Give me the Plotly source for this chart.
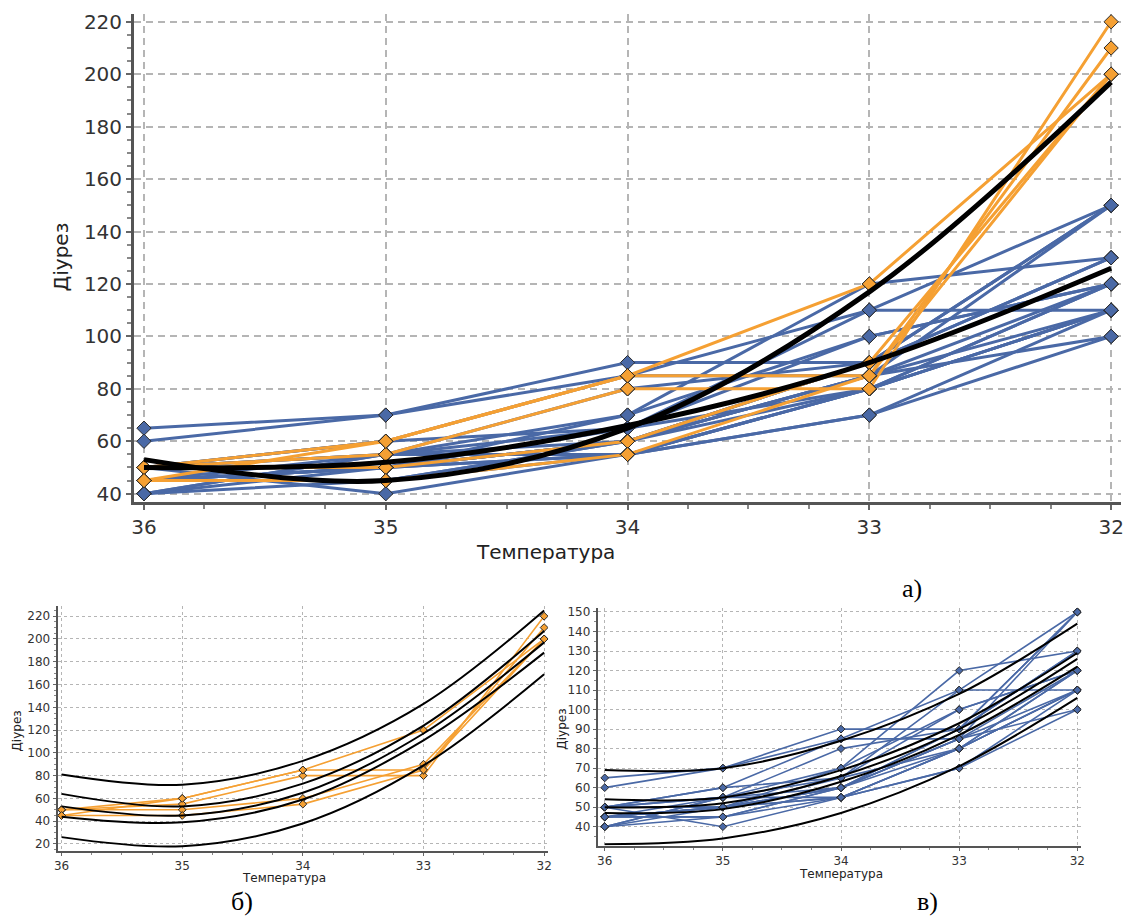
import plotly.graph_objects as go

# Temperature points (x axis runs from 36 down to 32)
temps = [36, 35, 34, 33, 32]

# Group 1 (orange) individual records: diuresis at each temperature
o1 = [45, 60, 85, 120, 200]
o2 = [50, 55, 80, 80, 220]
o3 = [50, 60, 85, 85, 210]
o4 = [50, 50, 60, 90, 200]
o5 = [45, 45, 55, 85, 200]

# Group 2 (blue) individual records
b1 = [65, 70, 90, 90, 130]
b2 = [60, 70, 85, 110, 110]
b3 = [50, 60, 85, 85, 120]
b4 = [45, 55, 80, 90, 150]
b5 = [40, 50, 70, 120, 130]
b6 = [50, 55, 70, 100, 120]
b7 = [45, 45, 55, 70, 100]
b8 = [50, 40, 55, 80, 110]
b9 = [40, 45, 60, 85, 150]
b10 = [45, 50, 55, 80, 110]
b11 = [50, 60, 65, 110, 150]
b12 = [45, 50, 60, 80, 120]
b13 = [50, 50, 60, 85, 100]
b14 = [40, 55, 55, 80, 120]
b15 = [45, 50, 60, 90, 130]
b16 = [50, 55, 65, 80, 110]
b17 = [45, 45, 60, 85, 110]
b18 = [50, 50, 55, 70, 110]
b19 = [40, 55, 60, 90, 150]
b20 = [45, 50, 65, 100, 120]

# Quadratic trend for group 1 with confidence and prediction bands
fit_orange = [53, 45, 65, 117, 197]
ci_orange_hi = [64, 53, 73, 124, 207]
ci_orange_lo = [44, 39, 59, 111, 188]
pi_orange_hi = [81, 72, 93, 143, 225]
pi_orange_lo = [26, 18, 38, 89, 169]

# Quadratic trend for group 2 with confidence and prediction bands
fit_blue = [50, 52, 66, 90, 126]
ci_blue_hi = [54, 55, 69, 93, 129]
ci_blue_lo = [47, 49, 63, 87, 122]
pi_blue_hi = [69, 70, 84, 108, 144]
pi_blue_lo = [31, 34, 47, 71, 106]

orange_rows = [o1, o2, o3, o4, o5]
blue_rows = [b1, b2, b3, b4, b5, b6, b7, b8, b9, b10,
             b11, b12, b13, b14, b15, b16, b17, b18, b19, b20]

BLUE = "#4a69a6"
ORANGE = "#f5a033"
EDGE = "#2a2a2a"
W, H = 1131, 920
FONT = "DejaVu Sans"

fig = go.Figure()


def add_group(rows, color, xa, ya, lw):
    for r in rows:
        fig.add_trace(go.Scatter(x=temps, y=r, mode="lines", xaxis=xa, yaxis=ya,
                                 line=dict(color=color, width=lw), hoverinfo="skip"))


def add_markers(rows, color, xa, ya, msize):
    xs, ys = [], []
    for r in rows:
        xs += temps
        ys += r
    fig.add_trace(go.Scatter(x=xs, y=ys, mode="markers", xaxis=xa, yaxis=ya,
                             marker=dict(symbol="diamond", size=msize, color=color,
                                         line=dict(color=EDGE, width=1))))


def add_curves(curves, xa, ya, lw):
    for c in curves:
        fig.add_trace(go.Scatter(x=temps, y=c, mode="lines", xaxis=xa, yaxis=ya,
                                 line=dict(color="black", width=lw, shape="spline"),
                                 hoverinfo="skip"))


# Panel a: both groups with their trends
add_group(blue_rows, BLUE, "x", "y", 3)
add_group(orange_rows, ORANGE, "x", "y", 3)
add_markers(blue_rows, BLUE, "x", "y", 11)
add_markers(orange_rows, ORANGE, "x", "y", 11)
add_curves([fit_orange, fit_blue], "x", "y", 5)

# Panel b: group 1 with bands
add_group(orange_rows, ORANGE, "x2", "y2", 1.6)
add_markers(orange_rows, ORANGE, "x2", "y2", 6)
add_curves([pi_orange_hi, ci_orange_hi, fit_orange, ci_orange_lo, pi_orange_lo], "x2", "y2", 2)

# Panel c: group 2 with bands
add_group(blue_rows, BLUE, "x3", "y3", 1.6)
add_markers(blue_rows, BLUE, "x3", "y3", 6)
add_curves([pi_blue_hi, ci_blue_hi, fit_blue, ci_blue_lo, pi_blue_lo], "x3", "y3", 2)


def px_x(v):
    return v / W


def px_y(v):
    return 1 - v / H


def axis(domain, rng, dtick, minor, fs, big, anchor):
    return dict(
        domain=domain, range=rng, anchor=anchor, dtick=dtick, tick0=0,
        showline=True, linecolor="#555555", linewidth=3 if big else 2,
        showgrid=True, gridcolor="#b5b5b5", gridwidth=1.5 if big else 1,
        griddash="7px,5px" if big else "3px,3px",
        ticks="outside", ticklen=5 if big else 3, tickwidth=1.5 if big else 1,
        tickcolor="#666666",
        minor=dict(dtick=minor, ticks="outside", ticklen=4 if big else 2,
                   tickcolor="#888888", showgrid=False),
        tickfont=dict(family=FONT, size=fs, color="#333333"),
        zeroline=False, mirror=False, fixedrange=True,
    )


layout_axes = dict(
    xaxis=axis([px_x(131), px_x(1125)], [36.041, 31.959], 1, 0.25, 20, True, "y"),
    yaxis=axis([px_y(502), px_y(10)], [36.98, 223.0], 20, 5, 20, True, "x"),
    xaxis2=axis([px_x(54), px_x(548)], [36.033, 31.967], 1, 0.25, 12, False, "y2"),
    yaxis2=axis([px_y(854), px_y(607)], [14.2, 229.2], 20, 5, 12, False, "x2"),
    xaxis3=axis([px_x(598), px_x(1085)], [36.059, 31.966], 1, 0.25, 12, False, "y3"),
    yaxis3=axis([px_y(849), px_y(609)], [30.3, 152.2], 10, 5, 12, False, "x3"),
)


def note(text, x, y, size, angle=0, family=FONT, color="#222222"):
    return dict(text=text, x=px_x(x), y=px_y(y), xref="paper", yref="paper",
                showarrow=False, textangle=angle, xanchor="center", yanchor="middle",
                font=dict(family=family, size=size, color=color))


annotations = [
    note("Діурез", 57, 255, 20, -90),
    note("Температура", 545, 553, 20),
    note("Діурез", 13, 733, 12, -90),
    note("Температура", 282, 882, 12),
    note("Діурез", 562, 732, 12, -90),
    note("Температура", 843, 878, 12),
    note("а)", 914, 590, 26, 0, "Liberation Serif", "black"),
    note("б)", 240, 905, 26, 0, "Liberation Serif", "black"),
    note("в)", 930, 905, 26, 0, "Liberation Serif", "black"),
]

fig.update_layout(
    width=W, height=H, margin=dict(l=0, r=0, t=0, b=0),
    paper_bgcolor="white", plot_bgcolor="white", showlegend=False,
    annotations=annotations, **layout_axes,
)

fig.write_html("out.html")
